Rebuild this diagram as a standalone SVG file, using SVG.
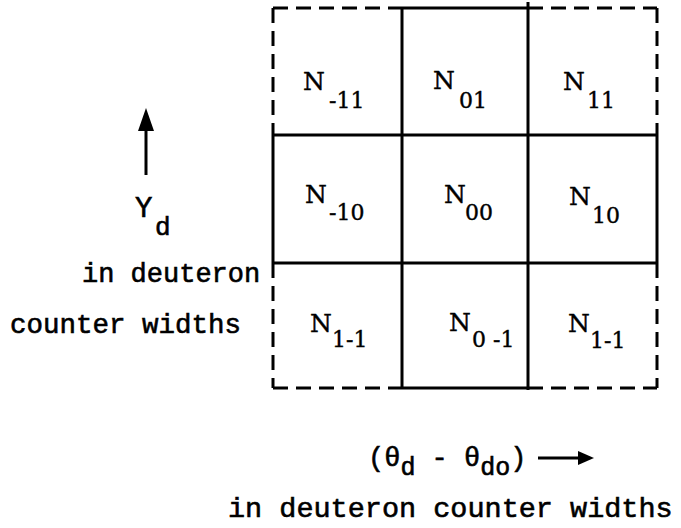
<svg xmlns="http://www.w3.org/2000/svg" width="681" height="528" viewBox="0 0 681 528">
<style>
.solid{stroke:#000;stroke-width:3;fill:none}
.dash{stroke:#000;stroke-width:3;fill:none;stroke-dasharray:15 8}
.n{font-family:"DejaVu Serif","Liberation Serif",serif;font-size:25px;fill:#000;stroke:#000;stroke-width:0.4}
.s{font-size:22px}
.m{font-family:"Liberation Mono","DejaVu Sans Mono",monospace;fill:#000;stroke:#000;stroke-width:0.6}
</style>
<rect width="681" height="528" fill="#fff"/>
<g id="connectors">
<path class="dash" d="M273,8 H402 M528,8 H657 M273,8 V135 M273,263 V388 M657,8 V135 M657,263 V388 M273,388 H402 M528,388 H657"/>
<path class="solid" d="M402,8 H528 M273,135 V263 M657,135 V263 M402,388 H528 M402,8 V388 M528,2 V390 M273,135 H657 M273,263 H657"/>
</g>
<g id="cell-m11"><text class="n" x="303" y="90">N<tspan class="s" x="329" y="108">-11</tspan></text></g>
<g id="cell-01"><text class="n" x="433" y="89">N<tspan class="s" x="459" y="108">01</tspan></text></g>
<g id="cell-11"><text class="n" x="563" y="90">N<tspan class="s" x="587" y="108">11</tspan></text></g>
<g id="cell-m10"><text class="n" x="305" y="203">N<tspan class="s" x="329" y="220">-10</tspan></text></g>
<g id="cell-00"><text class="n" x="444" y="203">N<tspan class="s" x="465" y="220">00</tspan></text></g>
<g id="cell-10"><text class="n" x="569" y="205">N<tspan class="s" x="592" y="223">10</tspan></text></g>
<g id="cell-1m1a"><text class="n" x="310" y="332">N<tspan class="s" x="332" y="347">1-1</tspan></text></g>
<g id="cell-0m1"><text class="n" x="449" y="331">N<tspan class="s" x="472" y="347">0 -1</tspan></text></g>
<g id="cell-1m1b"><text class="n" x="568" y="332">N<tspan class="s" x="590" y="348">1-1</tspan></text></g>
<g id="y-axis">
<line class="solid" x1="146" y1="128" x2="146" y2="175"/>
<polygon points="146,108 138,131 154,131" fill="#000"/>
<text class="m" x="135" y="217" style="font-size:29px">Y<tspan style="font-size:26px" x="155" y="235">d</tspan></text>
<text class="m" x="82" y="282" style="font-size:27px">in deuteron</text>
<text class="m" x="10" y="333" style="font-size:27.5px">counter widths</text>
</g>
<g id="x-axis">
<text class="m" x="368" y="466" style="font-size:27px">(θ<tspan style="font-size:25px" dy="9">d</tspan><tspan dy="-9"> - θ</tspan><tspan style="font-size:25px" dy="9">do</tspan><tspan dy="-9">)</tspan></text>
<line class="solid" x1="538" y1="458" x2="582" y2="458"/>
<polygon points="594,458 578,451 578,465" fill="#000"/>
<text class="m" x="228" y="517" style="font-size:28.5px">in deuteron counter widths</text>
</g>
</svg>
